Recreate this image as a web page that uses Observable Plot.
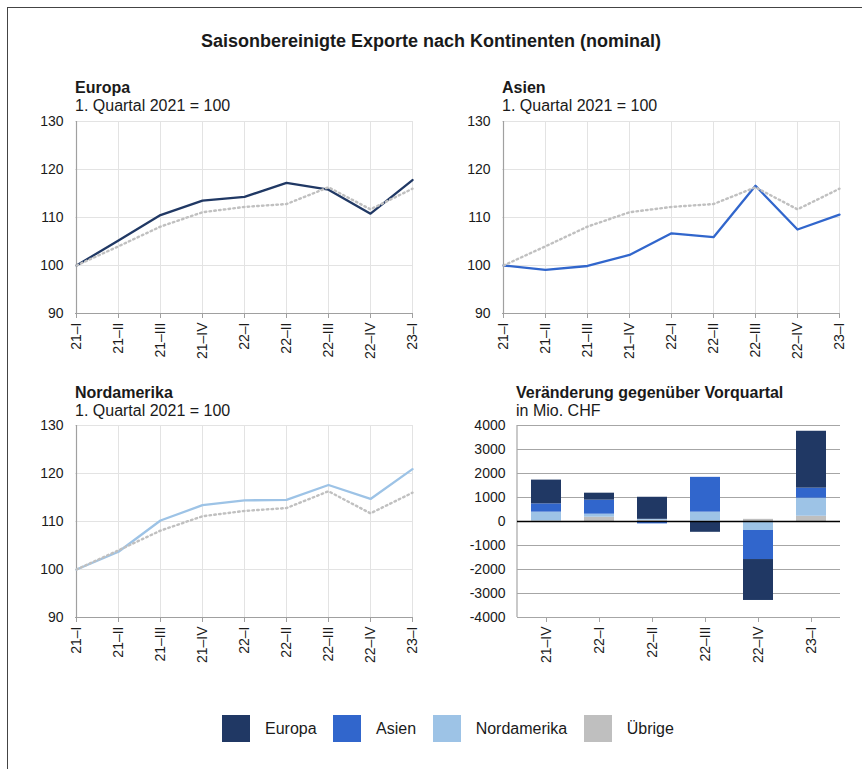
<!DOCTYPE html>
<html>
<head>
<meta charset="utf-8">
<script src="https://cdn.jsdelivr.net/npm/d3@7"></script>
<script src="https://cdn.jsdelivr.net/npm/@observablehq/plot@0.6"></script>
<style>
  html, body { margin: 0; padding: 0; background: #fff; }
  #root { position: relative; width: 862px; height: 769px; overflow: hidden; font-family: "Liberation Sans", Arial, sans-serif; color: #1a1a1a; }
  .abs { position: absolute; white-space: nowrap; }
  .frame { position: absolute; left: 7px; top: 7px; width: 900px; height: 800px; border-left: 1px solid #444; border-top: 1px solid #444; }
</style>
</head>
<body>
<div id="root"><div class="frame"></div></div>
<script>
// ---------- data ----------
const quarters = ["21–I","21–II","21–III","21–IV","22–I","22–II","22–III","22–IV","23–I"];
const indexTicks = [90, 100, 110, 120, 130];
const europa      = [100, 105.2, 110.5, 113.5, 114.3, 117.2, 115.8, 110.8, 117.8];
const asien       = [100,  99.1,  99.9, 102.2, 106.7, 105.9, 116.6, 107.5, 110.6];
const nordamerika = [100, 103.7, 110.2, 113.4, 114.4, 114.5, 117.6, 114.7, 120.9];
const total       = [100, 104.0, 108.1, 111.1, 112.2, 112.8, 116.3, 111.7, 116.0];

const barQuarters = ["21–IV","22–I","22–II","22–III","22–IV","23–I"];
const barTicks = [-4000, -3000, -2000, -1000, 0, 1000, 2000, 3000, 4000];
const chgEuropa      = [ 990,  290,  920, -450, -1705, 2370];
const chgAsien       = [ 345,  585, -100, 1450, -1210,  420];
const chgNordamerika = [ 370,  125,   40,  380,  -375,  750];
const chgUebrige     = [  20,  180,   50,   10,    90,  220];

const seriesNames  = ["Europa", "Asien", "Nordamerika", "Übrige"];
const seriesColors = ["#203864", "#3166cc", "#9dc3e6", "#bfbfbf"];

const mainTitle = "Saisonbereinigte Exporte nach Kontinenten (nominal)";
const indexSubtitle = "1. Quartal 2021 = 100";
const barTitle = "Veränderung gegenüber Vorquartal";
const barSubtitle = "in Mio. CHF";

// ---------- helpers ----------
const FONT = '"Liberation Sans", Arial, sans-serif';
const root = document.getElementById("root");
function place(el, left, top) {
  el.style.position = "absolute";
  el.style.left = left + "px";
  el.style.top = top + "px";
  root.appendChild(el);
  return el;
}
function text(str, left, baseline, size, bold, extra) {
  const d = document.createElement("div");
  d.className = "abs";
  d.textContent = str;
  d.style.fontSize = size + "px";
  d.style.lineHeight = size + "px";
  d.style.fontWeight = bold ? "bold" : "normal";
  if (extra) Object.assign(d.style, extra);
  return place(d, left, baseline - 0.8465 * size);
}
const plotStyle = {fontFamily: FONT, fontSize: "14px", color: "#1a1a1a", background: "transparent", overflow: "visible"};

function linePanel(values, color) {
  const data = quarters.map((q, i) => ({q, v: values[i], t: total[i]}));
  return Plot.plot({
    width: 403, height: 247,
    marginLeft: 45, marginRight: 20, marginTop: 10, marginBottom: 45,
    style: plotStyle,
    x: {type: "point", domain: quarters, padding: 0, label: null},
    y: {domain: [90, 130], label: null},
    marks: [
      Plot.gridX({stroke: "#e3e3e3", strokeOpacity: 1}),
      Plot.gridY(indexTicks, {stroke: "#e3e3e3", strokeOpacity: 1}),
      Plot.ruleX([quarters[0]], {stroke: "#a0a0a0", strokeWidth: 1.2}),
      Plot.ruleY([90], {stroke: "#a0a0a0", strokeWidth: 1.2}),
      Plot.axisY(indexTicks, {tickSize: 0, tickPadding: 12, label: null}),
      Plot.axisX({tickSize: 5, tickPadding: 4, tickRotate: -90, stroke: "#a0a0a0", label: null}),
      Plot.line(data, {x: "q", y: "v", stroke: color, strokeWidth: 2.3}),
      Plot.line(data, {x: "q", y: "t", stroke: "#c0c0c0", strokeWidth: 2.4, strokeDasharray: "1.6,3.2"})
    ]
  });
}

function barPanel() {
  const byName = {"Europa": chgEuropa, "Asien": chgAsien, "Nordamerika": chgNordamerika, "Übrige": chgUebrige};
  const stackOrder = ["Übrige", "Nordamerika", "Asien", "Europa"];
  const flat = [];
  barQuarters.forEach((q, i) => stackOrder.forEach(k => flat.push({q, k, v: byName[k][i]})));
  const leftAxis = (index, scales, values, dims) => {
    const l = document.createElementNS("http://www.w3.org/2000/svg", "line");
    l.setAttribute("x1", dims.marginLeft); l.setAttribute("x2", dims.marginLeft);
    l.setAttribute("y1", dims.marginTop); l.setAttribute("y2", dims.height - dims.marginBottom);
    l.setAttribute("stroke", "#a6a6a6"); l.setAttribute("stroke-width", 1.2);
    return l;
  };
  return Plot.plot({
    width: 398, height: 252,
    marginLeft: 60, marginRight: 15, marginTop: 10, marginBottom: 50,
    style: plotStyle,
    x: {type: "band", domain: barQuarters, paddingInner: 0.43, paddingOuter: 0.24, label: null},
    y: {domain: [-4000, 4000], label: null},
    color: {domain: seriesNames, range: seriesColors},
    marks: [
      Plot.gridY(barTicks, {stroke: "#a6a6a6", strokeOpacity: 1, strokeWidth: 1.2}),
      leftAxis,
      Plot.barY(flat, {x: "q", y: "v", fill: "k"}),
      Plot.ruleY([0], {stroke: "#000", strokeWidth: 1.5}),
      Plot.axisY(barTicks, {tickSize: 0, tickPadding: 12, tickFormat: d => String(d), label: null}),
      Plot.axisX({tickSize: 5, tickPadding: 4, tickRotate: -90, stroke: "#a6a6a6", label: null})
    ]
  });
}

// ---------- layout ----------
text(mainTitle, 0, 47, 18, true, {width: "862px", textAlign: "center"});

text("Europa", 75, 93.5, 16, true);
text(indexSubtitle, 75, 111.5, 16, false);
place(linePanel(europa, seriesColors[0]), 30, 110.5);

text("Asien", 502, 93.5, 16, true);
text(indexSubtitle, 502, 111.5, 16, false);
place(linePanel(asien, seriesColors[1]), 457, 110.5);

text("Nordamerika", 75, 398.5, 16, true);
text(indexSubtitle, 75, 416.5, 16, false);
place(linePanel(nordamerika, seriesColors[2]), 30, 415);

text(barTitle, 516, 398.5, 16, true);
text(barSubtitle, 516, 416.5, 16, false);
place(barPanel(), 457, 415);

// legend
const legend = document.createElement("div");
legend.style.display = "flex";
legend.style.alignItems = "center";
seriesNames.forEach((name, i) => {
  const sw = document.createElement("div");
  sw.style.width = "28px"; sw.style.height = "27px";
  sw.style.background = seriesColors[i];
  sw.style.marginRight = "15px";
  sw.style.marginLeft = i === 0 ? "0px" : "16.5px";
  const lb = document.createElement("div");
  lb.textContent = name;
  lb.style.fontSize = "16px";
  lb.style.lineHeight = "16px";
  legend.appendChild(sw); legend.appendChild(lb);
});
place(legend, 222, 715);
</script>
</body>
</html>
